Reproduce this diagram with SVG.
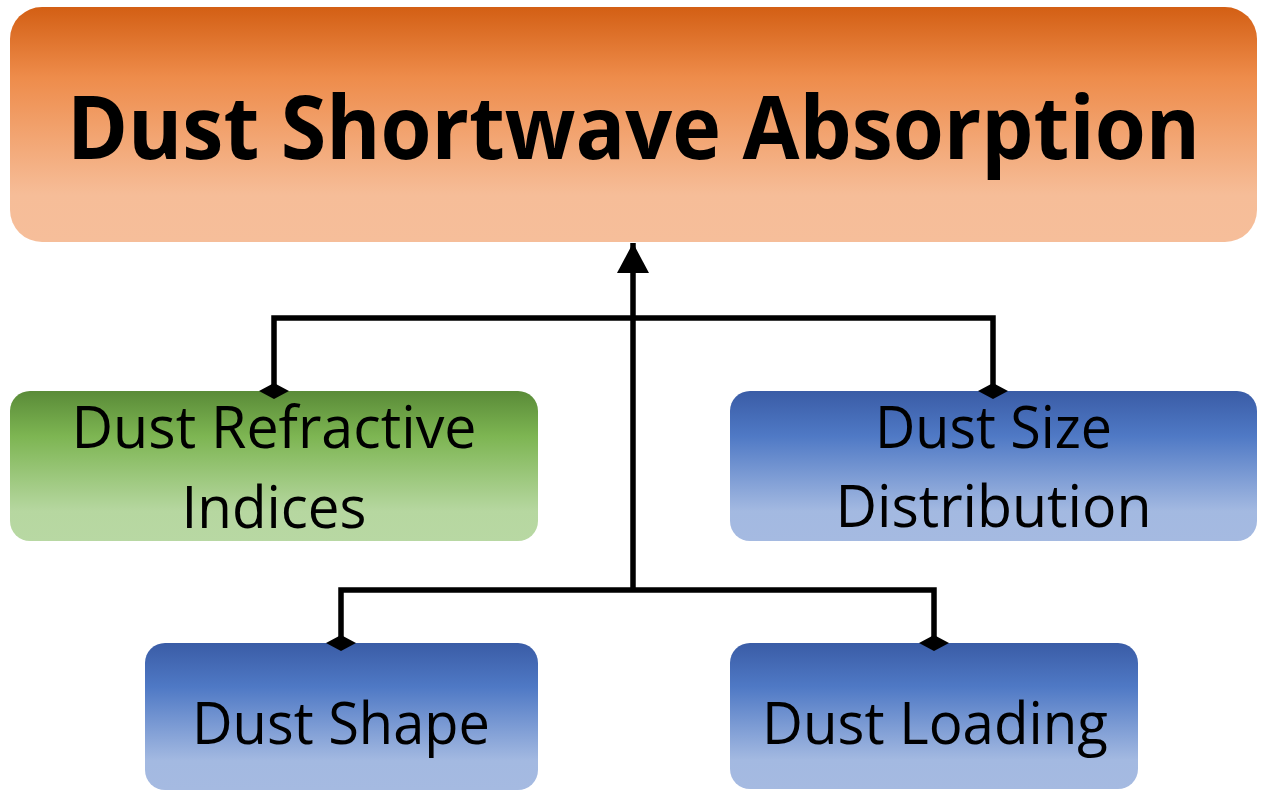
<svg xmlns="http://www.w3.org/2000/svg" width="1268" height="790" viewBox="0 0 1268 790">
<style>
.t{font-family:"Open Sans","Liberation Sans",sans-serif;fill:#000;text-anchor:middle}
.n{font-size:58px}
.title{font-size:87px;font-weight:bold}
.c{fill:none;stroke:#000;stroke-width:5.5;stroke-linejoin:miter}
</style>
<defs>
<linearGradient id="gO" x1="0" y1="0" x2="0" y2="1">
<stop offset="0" stop-color="#D35F14"/><stop offset="0.3" stop-color="#EE8C4B"/><stop offset="0.8" stop-color="#F6BD98"/><stop offset="1" stop-color="#F6BE9A"/>
</linearGradient>
<linearGradient id="gG" x1="0" y1="0" x2="0" y2="1">
<stop offset="0" stop-color="#5A8B38"/><stop offset="0.3" stop-color="#7DB552"/><stop offset="0.8" stop-color="#B6D7A0"/><stop offset="1" stop-color="#B8D8A3"/>
</linearGradient>
<linearGradient id="gB" x1="0" y1="0" x2="0" y2="1">
<stop offset="0" stop-color="#3A5CA6"/><stop offset="0.3" stop-color="#4F79C5"/><stop offset="0.8" stop-color="#A3B9E1"/><stop offset="1" stop-color="#A5BAE1"/>
</linearGradient>
<marker id="arr" viewBox="0 0 30 32" refX="30" refY="16" markerWidth="30" markerHeight="32" markerUnits="userSpaceOnUse" orient="auto">
<path d="M0,0 L30,16 L0,32 z" fill="#000"/>
</marker>
<marker id="dia" viewBox="0 0 30 16" refX="15" refY="8" markerWidth="30" markerHeight="16" markerUnits="userSpaceOnUse" orient="0">
<path d="M0,8 L15,0 L30,8 L15,16 z" fill="#000"/>
</marker>
</defs>
<g id="node-title">
<rect x="10" y="7" width="1247" height="235" rx="32" fill="url(#gO)"/>
<text class="t title" x="633.5" y="159" textLength="1133" lengthAdjust="spacingAndGlyphs">Dust Shortwave Absorption</text>
</g>
<g id="node-refractive">
<rect x="10" y="391" width="528" height="150" rx="20" fill="url(#gG)"/>
<text class="t n" x="274" y="448" textLength="405" lengthAdjust="spacingAndGlyphs">Dust Refractive</text>
<text class="t n" x="274" y="528" textLength="185" lengthAdjust="spacingAndGlyphs">Indices</text>
</g>
<g id="node-size">
<rect x="730" y="391" width="527" height="150" rx="20" fill="url(#gB)"/>
<text class="t n" x="993.5" y="448" textLength="237" lengthAdjust="spacingAndGlyphs">Dust Size</text>
<text class="t n" x="993.5" y="527" textLength="316" lengthAdjust="spacingAndGlyphs">Distribution</text>
</g>
<g id="node-shape">
<rect x="145" y="643" width="393" height="147" rx="20" fill="url(#gB)"/>
<text class="t n" x="341" y="744" textLength="298" lengthAdjust="spacingAndGlyphs">Dust Shape</text>
</g>
<g id="node-loading">
<rect x="730" y="643" width="408" height="146" rx="20" fill="url(#gB)"/>
<text class="t n" x="935" y="744" textLength="346" lengthAdjust="spacingAndGlyphs">Dust Loading</text>
</g>
<g id="connectors">
<path class="c" d="M633,590 V243" marker-end="url(#arr)"/>
<path class="c" d="M633,318 H274 V391" marker-end="url(#dia)"/>
<path class="c" d="M633,318 H993 V391" marker-end="url(#dia)"/>
<path class="c" d="M633,590 H341 V643" marker-end="url(#dia)"/>
<path class="c" d="M633,590 H934 V643" marker-end="url(#dia)"/>
</g>
</svg>
